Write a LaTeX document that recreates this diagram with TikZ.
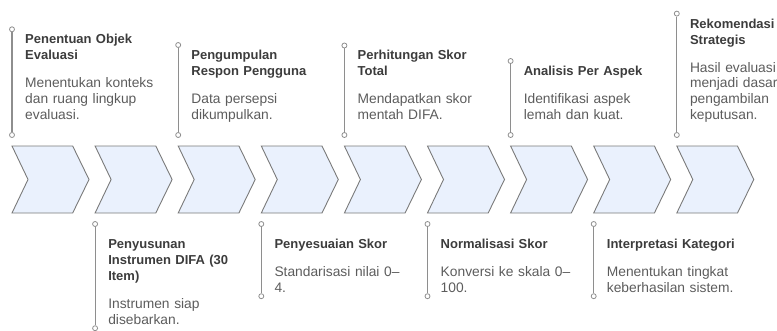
\documentclass[tikz,border=0pt]{standalone}
\usepackage{fontspec}
\setmainfont{Liberation Sans}
\definecolor{chevfill}{HTML}{EAF1FD}
\definecolor{chevline}{HTML}{7A7A7A}
\definecolor{stemline}{HTML}{8E8E8E}
\definecolor{titlecol}{HTML}{3C3C3C}
\definecolor{desccol}{HTML}{5C5C5C}
\begin{document}
\begin{tikzpicture}[x=1pt,y=-1pt,
  chevron/.style={draw=chevline, fill=chevfill, line width=0.9pt, line join=miter},
  stem/.style={draw=stemline, line width=1.1pt},
  endpt/.style={circle, draw=stemline, fill=white, line width=0.8pt, inner sep=0pt, minimum size=5pt},
  ttl/.style={anchor=base west, inner sep=0pt, text width=150pt, align=left, text=titlecol,
    font=\fontsize{13}{16}\selectfont\bfseries},
  dsc/.style={anchor=base west, inner sep=0pt, text width=150pt, align=left, text=desccol,
    font=\fontsize{13.8}{15.7}\selectfont},
]
\useasboundingbox (0,0) rectangle (777,330);

% process chevrons
\foreach \i in {0,...,8} {
  \pgfmathsetmacro\L{12+83.1*\i}
  \draw[chevron] (\L,146) -- ++(60.7,0) -- ++(16.3,33.5) -- ++(-16.3,33.5)
    -- ++(-60.7,0) -- ++(16,-33.5) -- cycle;
}

% ---- steps above the chevrons ----
% 1
\node[endpt] (s1a) at (12,29.3) {};
\node[endpt] (s1b) at (12,135) {};
\draw[stem] (s1a) -- (s1b);
\node[ttl] (t1) at (25,43.8) {Penentuan Objek\\Evaluasi};
\node[dsc] (d1) at (25,87.8) {Menentukan konteks\\dan ruang lingkup\\evaluasi.};

% 3
\node[endpt] (s3a) at (178.2,45) {};
\node[endpt] (s3b) at (178.2,135) {};
\draw[stem] (s3a) -- (s3b);
\node[ttl] (t3) at (191.2,59.5) {Pengumpulan\\Respon Pengguna};
\node[dsc] (d3) at (191.2,103.5) {Data persepsi\\dikumpulkan.};

% 5
\node[endpt] (s5a) at (344.4,45.5) {};
\node[endpt] (s5b) at (344.4,135) {};
\draw[stem] (s5a) -- (s5b);
\node[ttl] (t5) at (357.4,59.5) {Perhitungan Skor\\Total};
\node[dsc] (d5) at (357.4,103.5) {Mendapatkan skor\\mentah DIFA.};

% 7
\node[endpt] (s7a) at (510.6,61) {};
\node[endpt] (s7b) at (510.6,135) {};
\draw[stem] (s7a) -- (s7b);
\node[ttl] (t7) at (523.6,75.5) {Analisis Per Aspek};
\node[dsc] (d7) at (523.6,103.5) {Identifikasi aspek\\lemah dan kuat.};

% 9
\node[endpt] (s9a) at (676.8,13.6) {};
\node[endpt] (s9b) at (676.8,135) {};
\draw[stem] (s9a) -- (s9b);
\node[ttl] (t9) at (689.8,28.1) {Rekomendasi\\Strategis};
\node[dsc] (d9) at (689.8,72.1) {Hasil evaluasi\\menjadi dasar\\pengambilan\\keputusan.};

% ---- steps below the chevrons ----
% 2
\node[endpt] (s2a) at (95.1,224) {};
\node[endpt] (s2b) at (95.1,328.2) {};
\draw[stem] (s2a) -- (s2b);
\node[ttl] (t2) at (108.1,248.5) {Penyusunan\\Instrumen DIFA (30\\Item)};
\node[dsc] (d2) at (108.1,308.5) {Instrumen siap\\disebarkan.};

% 4
\node[endpt] (s4a) at (261.3,224) {};
\node[endpt] (s4b) at (261.3,296.2) {};
\draw[stem] (s4a) -- (s4b);
\node[ttl] (t4) at (274.3,248.5) {Penyesuaian Skor};
\node[dsc] (d4) at (274.3,276.5) {Standarisasi nilai 0–\\4.};

% 6
\node[endpt] (s6a) at (427.5,224) {};
\node[endpt] (s6b) at (427.5,296.2) {};
\draw[stem] (s6a) -- (s6b);
\node[ttl] (t6) at (440.5,248.5) {Normalisasi Skor};
\node[dsc] (d6) at (440.5,276.5) {Konversi ke skala 0–\\100.};

% 8
\node[endpt] (s8a) at (593.7,224) {};
\node[endpt] (s8b) at (593.7,296.2) {};
\draw[stem] (s8a) -- (s8b);
\node[ttl] (t8) at (606.7,248.5) {Interpretasi Kategori};
\node[dsc] (d8) at (606.7,276.5) {Menentukan tingkat\\keberhasilan sistem.};
\end{tikzpicture}
\end{document}
